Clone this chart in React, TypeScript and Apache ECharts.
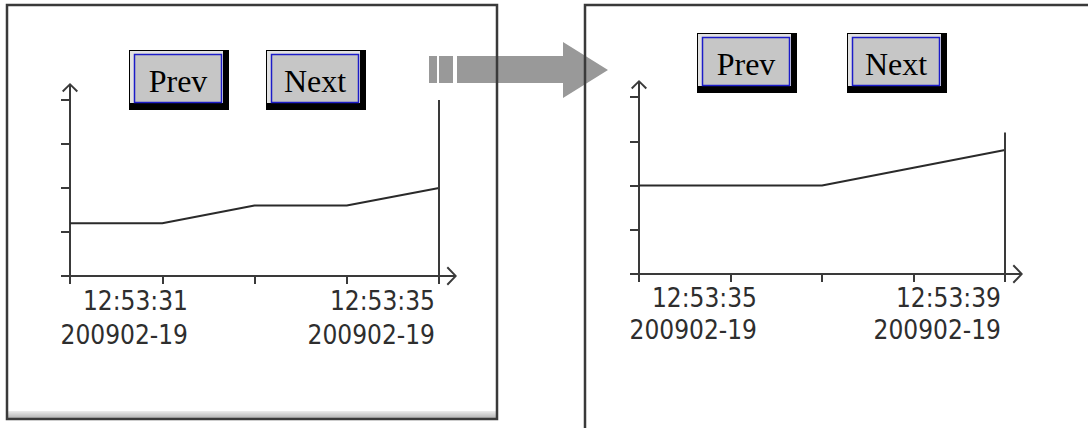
import React, { useEffect, useRef } from 'react';
import * as echarts from 'echarts';

const xTicks = [0, 1, 2, 3, 4];
const leftValues = [1.2, 1.2, 1.6, 1.6, 2.0];
const rightValues = [2.0, 2.0, 2.0, 2.4, 2.8];
const leftTimeLabels = ['12:53:31', '12:53:35'];
const rightTimeLabels = ['12:53:35', '12:53:39'];
const leftDateLabels = ['200902-19', '200902-19'];
const rightDateLabels = ['200902-19', '200902-19'];
const leftCursor = [4, 4];
const rightCursor = [4, 3.2];
const buttonLabels = ['Prev', 'Next'];

const Y_ARROW = 'path://M8,0 L16,7.8 L14.6,9.2 L8,2.6 L1.4,9.2 L0,7.8 Z M7,1.5 L9,1.5 L9,34 L7,34 Z';
const X_ARROW = 'path://M9.5,0 L19,9 L17.6,10.4 L9.5,2.6 L1.4,10.4 L0,9 Z M8.5,1.5 L10.5,1.5 L10.5,36 L8.5,36 Z';

const AXIS_COLOR = '#3a3a3a';

function xAxisFor(gridIndex: number, times: string[], dates: string[], lineHeight: number) {
  const tokenStyle = {
    width: 118,
    align: 'right',
    padding: [0, 4, 0, 0],
    fontFamily: '"DejaVu Sans Condensed", "DejaVu Sans"',
    fontSize: 26,
    color: '#2e2e2e',
    lineHeight,
  };
  return {
    type: 'value',
    gridIndex,
    min: 0,
    max: 4,
    interval: 1,
    splitLine: { show: false },
    axisLine: {
      show: true,
      onZero: false,
      lineStyle: { color: AXIS_COLOR, width: 2 },
      symbol: ['none', X_ARROW],
      symbolSize: [20, 36],
    },
    axisTick: { show: true, length: 8, lineStyle: { color: AXIS_COLOR, width: 2 } },
    axisLabel: {
      show: true,
      margin: 8,
      alignMinLabel: 'left',
      alignMaxLabel: 'right',
      formatter: (v: number) => {
        if (v === xTicks[0]) return `{t|${times[0]}}\n{d|${dates[0]}}`;
        if (v === xTicks[xTicks.length - 1]) return `{t|${times[1]}}\n{d|${dates[1]}}`;
        return '';
      },
      rich: { t: tokenStyle, d: tokenStyle },
    },
  };
}

function yAxisFor(gridIndex: number) {
  return {
    type: 'value',
    gridIndex,
    min: 0,
    max: 4,
    interval: 1,
    splitLine: { show: false },
    axisLine: {
      show: true,
      onZero: false,
      lineStyle: { color: AXIS_COLOR, width: 2 },
      symbol: ['none', Y_ARROW],
      symbolSize: [17, 34],
    },
    axisTick: { show: true, length: 9, lineStyle: { color: AXIS_COLOR, width: 2 } },
    axisLabel: { show: false },
  };
}

function seriesFor(idx: number, values: number[], cursor: number[]) {
  return {
    type: 'line',
    xAxisIndex: idx,
    yAxisIndex: idx,
    data: xTicks.map((x, i) => [x, values[i]]),
    showSymbol: false,
    symbol: 'none',
    lineStyle: { color: '#2a2a2a', width: 2 },
    markLine: {
      silent: true,
      symbol: ['none', 'none'],
      label: { show: false },
      lineStyle: { color: AXIS_COLOR, width: 2, type: 'solid' },
      data: [[{ coord: [cursor[0], 0] }, { coord: [cursor[0], cursor[1]] }]],
    },
  };
}

function button(x: number, y: number, label: string) {
  return {
    type: 'group',
    x,
    y,
    z: 20,
    children: [
      { type: 'rect', shape: { x: 0, y: 0, width: 100, height: 60 }, style: { fill: '#000' } },
      { type: 'rect', shape: { x: 1, y: 1, width: 93, height: 52 }, style: { fill: '#e2e2e2' } },
      {
        type: 'rect',
        shape: { x: 5.5, y: 4.5, width: 87, height: 48 },
        style: { fill: '#c6c6c6', stroke: '#1c1cc8', lineWidth: 1.5 },
      },
      {
        type: 'text',
        x: 49,
        y: 31,
        style: {
          text: label,
          font: '32px "Liberation Serif"',
          fill: '#000',
          align: 'center',
          verticalAlign: 'middle',
          textAlign: 'center',
          textVerticalAlign: 'middle',
        },
      },
    ],
  };
}

export default function App() {
  const ref = useRef<HTMLDivElement>(null);
  useEffect(() => {
    if (!ref.current) return;
    const chart = echarts.init(ref.current, undefined, { renderer: 'svg' });
    const option: any = {
      animation: false,
      backgroundColor: '#ffffff',
      grid: [
        { left: 70, top: 100, width: 369, height: 176 },
        { left: 639, top: 97, width: 366, height: 177 },
      ],
      xAxis: [
        xAxisFor(0, leftTimeLabels, leftDateLabels, 34),
        xAxisFor(1, rightTimeLabels, rightDateLabels, 32),
      ],
      yAxis: [yAxisFor(0), yAxisFor(1)],
      series: [seriesFor(0, leftValues, leftCursor), seriesFor(1, rightValues, rightCursor)],
      graphic: [
        { type: 'rect', z: -20, shape: { x: 7, y: 5, width: 490, height: 414 }, style: { fill: '#fff' } },
        { type: 'rect', z: -20, shape: { x: 585, y: 5, width: 600, height: 500 }, style: { fill: '#fff' } },
        {
          type: 'rect',
          z: -19,
          shape: { x: 8, y: 411, width: 488, height: 7 },
          style: {
            fill: new echarts.graphic.LinearGradient(0, 0, 0, 1, [
              { offset: 0, color: '#ececec' },
              { offset: 1, color: '#b4b4b4' },
            ]),
          },
        },
        { type: 'rect', z: -15, shape: { x: 429, y: 56, width: 8, height: 27 }, style: { fill: '#999' } },
        { type: 'rect', z: -15, shape: { x: 439, y: 56, width: 14, height: 27 }, style: { fill: '#999' } },
        {
          type: 'polygon',
          z: -15,
          shape: {
            points: [
              [457, 56],
              [563, 56],
              [563, 42],
              [608, 70],
              [563, 98],
              [563, 83],
              [457, 83],
            ],
          },
          style: { fill: '#999' },
        },
        {
          type: 'rect',
          z: -10,
          shape: { x: 7, y: 5, width: 490, height: 414 },
          style: { fill: 'none', stroke: '#3a3a3a', lineWidth: 2.5 },
        },
        {
          type: 'rect',
          z: -10,
          shape: { x: 585, y: 5, width: 600, height: 500 },
          style: { fill: 'none', stroke: '#3a3a3a', lineWidth: 2.5 },
        },
        button(129, 50, buttonLabels[0]),
        button(266, 50, buttonLabels[1]),
        button(697, 33, buttonLabels[0]),
        button(847, 33, buttonLabels[1]),
      ],
    };
    chart.setOption(option);
    return () => chart.dispose();
  }, []);
  return (
    <div
      ref={ref}
      style={{ position: 'fixed', left: 0, top: 0, width: 1088, height: 428, background: '#fff' }}
    />
  );
}
